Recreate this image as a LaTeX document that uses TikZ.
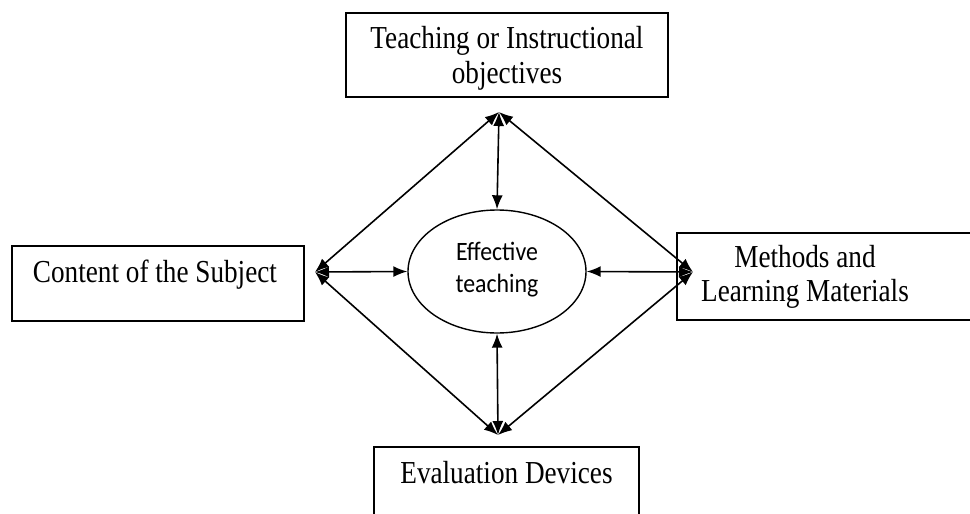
\documentclass[tikz,border=0pt]{standalone}
\usepackage{fontspec}
\setmainfont{Liberation Serif}[FakeStretch=0.85]
\newfontfamily\calibfont{Carlito}[FakeStretch=0.9]
\usetikzlibrary{arrows.meta,shapes.geometric,calc}
\begin{document}
\begin{tikzpicture}[x=1pt,y=-1pt,
  box/.style={draw, line width=1.8pt, rectangle, inner sep=0pt},
  openbox/.style={rectangle, inner sep=0pt},
  edge/.style={line width=1.8pt, line join=miter},
  lbl/.style={inner sep=0pt, align=center, font=\fontsize{32}{34.5}\selectfont},
  hub/.style={draw, line width=1.4pt, ellipse, inner sep=0pt,
    minimum width=178pt, minimum height=123pt},
  hubtext/.style={inner sep=0pt, align=center, font=\calibfont\fontsize{26.5}{32}\selectfont},
  link/.style={{Latex[length=14pt,width=11pt]}-{Latex[length=14pt,width=11pt]}, line width=1.6pt}]
\useasboundingbox (0,0) rectangle (970,514);

% outer boxes
\node[box, minimum width=322pt, minimum height=84pt] (obj) at (507,55) {};
\node[box, minimum width=292pt, minimum height=75pt] (content) at (158,283.5) {};
% these two run past the edge of the page: only their inner sides are stroked
\node[openbox, anchor=west, minimum width=293pt, minimum height=87pt] (methods) at (677,276.5) {};
\node[openbox, anchor=north, minimum width=265pt, minimum height=67pt] (eval) at (506.5,447) {};
\draw[edge] (methods.north east) -- (methods.north west) -- (methods.south west) -- (methods.south east);
\draw[edge] (eval.south west) -- (eval.north west) -- (eval.north east) -- (eval.south east);

% box texts
\node[lbl] (objtext) at (507,58.5) {Teaching or Instructional\\objectives};
\node[lbl, anchor=base] (contenttext) at (155,282) {Content of the Subject};
\node[lbl] (methodstext) at (805,277) {Methods and\\Learning Materials};
\node[lbl, anchor=base] (evaltext) at (506.5,483) {Evaluation Devices};

% central ellipse
\node[hub] (hub) at (497,271.5) {};
\node[hubtext] (hubtext) at (497,269.4) {Effective\\teaching};

% meeting points of the arrows
\coordinate (T) at (499,112);
\coordinate (L) at (315,272);
\coordinate (R) at (693,272);
\coordinate (B) at (498,435);

% diamond of double arrows
\draw[link] (L) -- (T);
\draw[link] (T) -- (R);
\draw[link] (L) -- (B);
\draw[link] (B) -- (R);

% spokes to the centre
\draw[link] (T) -- (hub.north);
\draw[link] (L) -- (hub.west);
\draw[link] (R) -- (hub.east);
\draw[link] (B) -- (hub.south);
\end{tikzpicture}
\end{document}
